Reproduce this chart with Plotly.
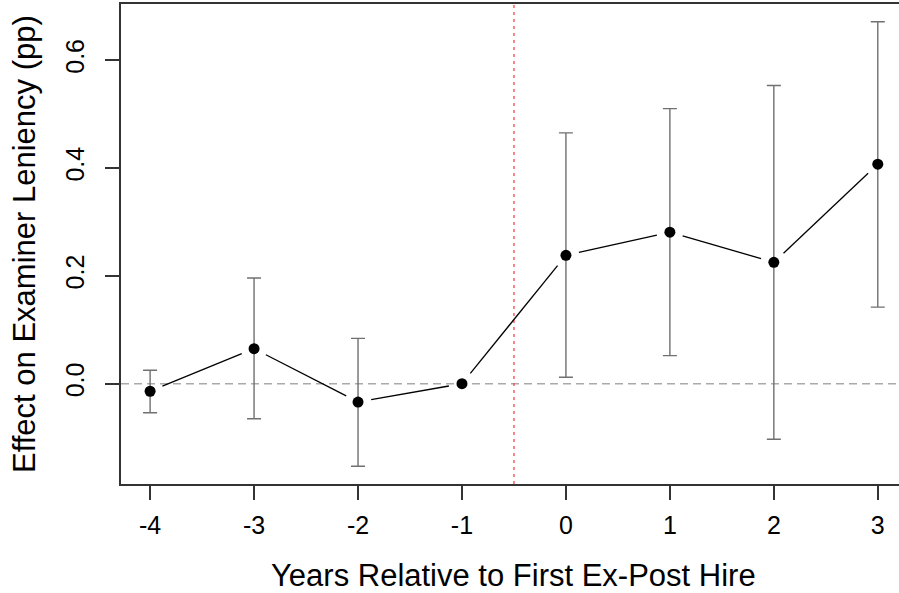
import math
import plotly.graph_objects as go

# ---- data ----
years = [-4, -3, -2, -1, 0, 1, 2, 3]
estimate = [-0.014, 0.065, -0.034, 0.0, 0.238, 0.281, 0.225, 0.407]
ci_high = [0.025, 0.196, 0.084, None, 0.465, 0.510, 0.553, 0.671]
ci_low = [-0.054, -0.065, -0.153, None, 0.012, 0.052, -0.103, 0.142]
x_tick_vals = [-4, -3, -2, -1, 0, 1, 2, 3]
x_tick_text = ["-4", "-3", "-2", "-1", "0", "1", "2", "3"]
y_tick_vals = [0.0, 0.2, 0.4, 0.6]
y_tick_text = ["0.0", "0.2", "0.4", "0.6"]
event_x = -0.5
x_title = "Years Relative to First Ex-Post Hire"
y_title = "Effect on Examiner Leniency (pp)"

# ---- layout geometry ----
W, H = 899, 593
ML, MR, MT, MB = 121, 0, 4, 109
x_range = [-4.28, 3.204]
y_range = [-0.186, 0.704]
FONT = "Liberation Sans, Arial, Helvetica, sans-serif"

sx = (W - ML - MR) / (x_range[1] - x_range[0])
sy = (H - MT - MB) / (y_range[1] - y_range[0])
GAP = 13.3  # px gap around points (R type="b")

seg_x, seg_y = [], []
for i in range(len(years) - 1):
    x1, y1, x2, y2 = years[i], estimate[i], years[i + 1], estimate[i + 1]
    dxp, dyp = (x2 - x1) * sx, (y2 - y1) * sy
    L = math.hypot(dxp, dyp)
    if L <= 2 * GAP:
        continue
    f = GAP / L
    seg_x += [x1 + (x2 - x1) * f, x2 - (x2 - x1) * f, None]
    seg_y += [y1 + (y2 - y1) * f, y2 - (y2 - y1) * f, None]

eb_x, eb_y, eb_plus, eb_minus = [], [], [], []
for xv, e, hi, lo in zip(years, estimate, ci_high, ci_low):
    if hi is None:
        continue
    eb_x.append(xv)
    eb_y.append(e)
    eb_plus.append(hi - e)
    eb_minus.append(e - lo)

fig = go.Figure()
fig.add_trace(go.Scatter(
    x=eb_x, y=eb_y, mode="markers",
    marker=dict(size=1, color="rgba(0,0,0,0)"),
    error_y=dict(type="data", symmetric=False, array=eb_plus, arrayminus=eb_minus,
                 color="#707070", thickness=1.4, width=7),
    showlegend=False, hoverinfo="skip"))
fig.add_trace(go.Scatter(
    x=seg_x, y=seg_y, mode="lines",
    line=dict(color="black", width=1.3), showlegend=False, hoverinfo="skip"))
fig.add_trace(go.Scatter(
    x=years, y=estimate, mode="markers",
    marker=dict(size=11, color="black"), showlegend=False))

# zero reference line and event line
fig.add_shape(type="line", xref="paper", x0=0, x1=1, yref="y", y0=0, y1=0,
              line=dict(color="#aaaaaa", width=1.5, dash="8px,5px"), layer="below")
fig.add_shape(type="line", xref="x", x0=event_x, x1=event_x, yref="paper", y0=0, y1=1,
              line=dict(color="rgba(255,60,60,0.85)", width=1.5, dash="3px,4px"), layer="below")

fig.add_annotation(text=x_title, xref="x", x=(x_range[0] + 3.28) / 2, yref="paper", y=0,
                   yshift=-91, xanchor="center", yanchor="middle", showarrow=False,
                   font=dict(family=FONT, size=31, color="black"))
fig.add_annotation(text=y_title, xref="paper", x=0, xshift=-97, yref="paper", y=0.5,
                   xanchor="center", yanchor="middle", textangle=-90, showarrow=False,
                   font=dict(family=FONT, size=31, color="black"))

fig.update_layout(
    width=W, height=H,
    margin=dict(l=ML, r=MR, t=MT, b=MB, pad=0),
    paper_bgcolor="white", plot_bgcolor="white",
    font=dict(family=FONT, color="black"),
    xaxis=dict(range=x_range, tickmode="array", tickvals=x_tick_vals, ticktext=x_tick_text,
               showgrid=False, zeroline=False, showline=True, mirror=True,
               linecolor="#333333", linewidth=1.5,
               ticks="outside", ticklen=14, tickwidth=1.5, tickcolor="#333333",
               tickfont=dict(family=FONT, size=25, color="black"),
               ticklabelstandoff=4),
    yaxis=dict(range=y_range, tickmode="array", tickvals=y_tick_vals, ticktext=y_tick_text,
               showgrid=False, zeroline=False, showline=True, mirror=False,
               linecolor="#333333", linewidth=1.5,
               ticks="outside", ticklen=14, tickwidth=1.5, tickcolor="#333333",
               tickangle=-90,
               tickfont=dict(family=FONT, size=25, color="black"),
               ticklabelstandoff=11),
)

fig.write_html("out.html")
